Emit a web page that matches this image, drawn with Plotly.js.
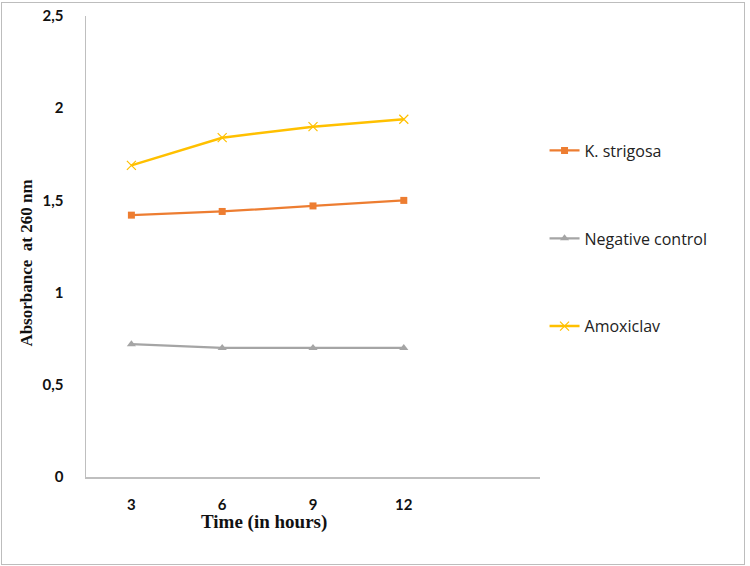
<!DOCTYPE html>
<html>
<head>
<meta charset="utf-8">
<script src="https://cdn.plot.ly/plotly-3.0.1.min.js"></script>
<style>
  html, body { margin: 0; padding: 0; background: #fff; }
  #wrap { position: relative; width: 750px; height: 566px; }
  #chart { width: 750px; height: 566px; }
  #frame { position: absolute; left: 1px; top: 2px; width: 742px; height: 561px;
           border: 1px solid #bdbdbd; pointer-events: none; }
</style>
</head>
<body>
<div id="wrap">
  <div id="chart"></div>
  <div id="frame"></div>
</div>
<script>
// Sampling times (hours)
const hours = [3, 6, 9, 12];

// Absorbance at 260 nm per treatment
const kStrigosa = [1.42, 1.44, 1.47, 1.50];
const negativeControl = [0.72, 0.70, 0.70, 0.70];
const amoxiclav = [1.69, 1.84, 1.90, 1.94];

const seriesNames = ['K. strigosa', 'Negative control', 'Amoxiclav'];
const xTickLabels = ['3', '6', '9', '12'];

const traces = [
  {
    x: hours, y: kStrigosa, name: seriesNames[0], legendgroup: 'a',
    type: 'scatter', mode: 'lines+markers',
    line: { color: '#ED7D31', width: 2.25 },
    marker: { symbol: 'square', size: 7, color: '#ED7D31' }
  },
  {
    x: hours, y: negativeControl, name: seriesNames[1], legendgroup: 'b',
    type: 'scatter', mode: 'lines+markers',
    line: { color: '#A5A5A5', width: 2.25 },
    marker: { symbol: 'triangle-up', size: 8, color: '#A5A5A5' }
  },
  {
    x: hours, y: amoxiclav, name: seriesNames[2], legendgroup: 'c',
    type: 'scatter', mode: 'lines+markers',
    line: { color: '#FFC000', width: 2.5 },
    marker: { symbol: 'x-thin', size: 9, color: '#FFC000', line: { color: '#FFC000', width: 1.2 } }
  }
];

const layout = {
  width: 750, height: 566,
  margin: { l: 86, r: 210, t: 16, b: 89 },
  paper_bgcolor: '#ffffff', plot_bgcolor: '#ffffff',
  separators: ',.',
  showlegend: true,
  legend: {
    x: 1.01, xanchor: 'left', y: 0.745, yanchor: 'top',
    traceorder: 'grouped', tracegroupgap: 64,
    font: { family: '"Open Sans", sans-serif', size: 16, color: '#222' },
    bgcolor: 'rgba(0,0,0,0)'
  },
  xaxis: {
    range: [1.5, 16.5],
    tickmode: 'array', tickvals: hours, ticktext: xTickLabels,
    showgrid: false, zeroline: false,
    showline: true, linecolor: '#bfbfbf', linewidth: 1.5,
    ticks: '', ticklabelstandoff: 13,
    tickfont: { family: 'Lato, "Open Sans", sans-serif', size: 15, color: '#111', weight: 'bold' }
  },
  yaxis: {
    range: [0, 2.5],
    tickmode: 'array', tickvals: [0, 0.5, 1, 1.5, 2, 2.5],
    ticktext: ['0', '0,5', '1', '1,5', '2', '2,5'],
    showgrid: false, zeroline: false,
    showline: true, linecolor: '#bfbfbf', linewidth: 1.5,
    ticks: '', ticklabelstandoff: 18,
    tickfont: { family: 'Lato, "Open Sans", sans-serif', size: 15, color: '#111', weight: 'bold' }
  },
  annotations: [
    {
      text: 'Time (in hours)', xref: 'paper', yref: 'paper',
      x: 0.393, y: -0.098, xanchor: 'center', yanchor: 'middle', showarrow: false,
      font: { family: '"Liberation Serif", "Times New Roman", serif', size: 19, color: '#111', weight: 'bold' }
    },
    {
      text: 'Absorbance  at 260 nm', xref: 'paper', yref: 'paper', textangle: -90,
      x: -0.13, y: 0.465, xanchor: 'center', yanchor: 'middle', showarrow: false,
      font: { family: '"Liberation Serif", "Times New Roman", serif', size: 17, color: '#111', weight: 'bold' }
    }
  ]
};

Plotly.newPlot('chart', traces, layout, { displayModeBar: false, staticPlot: true });
</script>
</body>
</html>
